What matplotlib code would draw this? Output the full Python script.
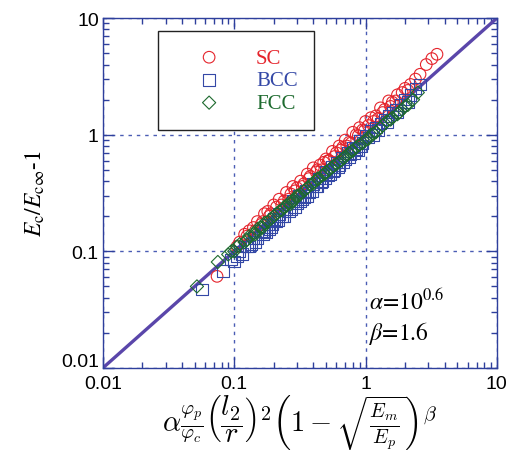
import matplotlib
matplotlib.use("Agg")
import matplotlib.pyplot as plt
import matplotlib.transforms as mtransforms
from matplotlib.ticker import LogLocator, FixedFormatter, FixedLocator

# simple cubic
sc_x = [0.074, 0.11, 0.12, 0.13, 0.14, 0.15, 0.16, 0.17, 0.18, 0.19, 0.20, 0.21, 0.22,
        0.24, 0.25, 0.27, 0.28, 0.30, 0.32, 0.34, 0.36, 0.38, 0.40, 0.42, 0.45, 0.48,
        0.50, 0.53, 0.56, 0.60, 0.63, 0.67, 0.70, 0.75, 0.80, 0.85, 0.90, 0.95, 1.00,
        1.05, 1.10, 1.20, 1.30, 1.40, 1.50, 1.60, 1.75, 1.90, 2.00, 2.20, 2.40, 2.60,
        2.90, 3.20, 3.50,
        0.105, 0.125, 0.145, 0.165, 0.185, 0.23, 0.26, 0.29, 0.33, 0.37, 0.43, 0.46,
        0.52, 0.58, 0.65, 0.72, 0.78, 0.88, 0.98, 1.15, 1.25, 1.35, 1.55, 1.70, 2.10]
sc_y = [0.061, 0.12, 0.14, 0.15, 0.16, 0.18, 0.17, 0.21, 0.22, 0.21, 0.25, 0.24, 0.28,
        0.27, 0.32, 0.31, 0.36, 0.35, 0.40, 0.38, 0.46, 0.44, 0.52, 0.48, 0.55, 0.58,
        0.62, 0.60, 0.72, 0.70, 0.80, 0.78, 0.90, 0.86, 1.05, 1.00, 1.15, 1.10, 1.30,
        1.20, 1.40, 1.45, 1.70, 1.65, 1.95, 1.90, 2.20, 2.30, 2.50, 2.70, 3.00, 3.30,
        4.00, 4.50, 4.90,
        0.11, 0.135, 0.15, 0.18, 0.20, 0.25, 0.28, 0.33, 0.36, 0.42, 0.50, 0.50,
        0.60, 0.65, 0.74, 0.80, 0.85, 0.98, 1.08, 1.30, 1.38, 1.55, 1.75, 1.95, 2.40]

# body centred cubic
bcc_x = [0.057, 0.082, 0.095, 0.10, 0.11, 0.115, 0.12, 0.13, 0.14, 0.15, 0.16, 0.17,
         0.18, 0.19, 0.20, 0.21, 0.22, 0.23, 0.25, 0.26, 0.28, 0.30, 0.31, 0.33, 0.35,
         0.37, 0.40, 0.42, 0.44, 0.47, 0.50, 0.52, 0.55, 0.58, 0.60, 0.63, 0.66, 0.70,
         0.73, 0.77, 0.80, 0.85, 0.90, 0.95, 1.00, 1.05, 1.10, 1.20, 1.30, 1.40, 1.50,
         1.60, 1.70, 1.85, 2.00, 2.20, 2.40, 2.60,
         0.105, 0.125, 0.135, 0.145, 0.165, 0.175, 0.185, 0.195, 0.215, 0.24, 0.27,
         0.29, 0.32, 0.34, 0.36, 0.39, 0.43, 0.46, 0.49, 0.54, 0.57, 0.62, 0.68, 0.75,
         0.82, 0.88, 0.93, 1.15, 1.25, 1.45, 1.75, 2.10]
bcc_y = [0.047, 0.068, 0.085, 0.082, 0.10, 0.095, 0.11, 0.11, 0.13, 0.13, 0.15, 0.15,
         0.17, 0.16, 0.19, 0.18, 0.21, 0.20, 0.23, 0.22, 0.27, 0.26, 0.30, 0.28, 0.33,
         0.32, 0.38, 0.36, 0.42, 0.40, 0.48, 0.45, 0.53, 0.50, 0.58, 0.55, 0.64, 0.62,
         0.70, 0.68, 0.78, 0.75, 0.88, 0.85, 0.97, 0.95, 1.08, 1.15, 1.25, 1.35, 1.45,
         1.55, 1.65, 1.80, 2.00, 2.20, 2.50, 2.70,
         0.090, 0.11, 0.115, 0.12, 0.14, 0.145, 0.155, 0.17, 0.185, 0.20, 0.23,
         0.24, 0.27, 0.29, 0.30, 0.33, 0.36, 0.39, 0.42, 0.46, 0.49, 0.53, 0.58, 0.64,
         0.70, 0.74, 0.80, 1.00, 1.10, 1.28, 1.55, 1.90]

# face centred cubic
fcc_x = [0.052, 0.075, 0.09, 0.10, 0.11, 0.12, 0.13, 0.14, 0.15, 0.16, 0.17, 0.18,
         0.20, 0.21, 0.22, 0.24, 0.26, 0.28, 0.30, 0.32, 0.34, 0.36, 0.38, 0.41, 0.44,
         0.47, 0.50, 0.53, 0.57, 0.60, 0.65, 0.70, 0.75, 0.80, 0.85, 0.90, 1.00, 1.10,
         1.20, 1.30, 1.45, 1.60, 1.75, 1.90, 2.10, 2.30, 2.50,
         0.095, 0.105, 0.125, 0.145, 0.165, 0.19, 0.23, 0.25, 0.27, 0.29, 0.31, 0.35,
         0.40, 0.43, 0.49, 0.55, 0.62, 0.68, 0.72, 0.78, 0.95, 1.05, 1.15, 1.35, 1.55,
         1.80, 2.00]
fcc_y = [0.050, 0.081, 0.094, 0.10, 0.115, 0.12, 0.135, 0.14, 0.155, 0.16, 0.175, 0.18,
         0.20, 0.21, 0.22, 0.24, 0.26, 0.27, 0.30, 0.31, 0.33, 0.35, 0.37, 0.40, 0.42,
         0.45, 0.48, 0.50, 0.54, 0.56, 0.60, 0.65, 0.70, 0.73, 0.78, 0.82, 0.90, 1.00,
         1.05, 1.15, 1.30, 1.40, 1.50, 1.65, 1.80, 2.00, 2.30,
         0.10, 0.11, 0.125, 0.14, 0.16, 0.19, 0.225, 0.245, 0.255, 0.28, 0.30, 0.34,
         0.38, 0.42, 0.46, 0.52, 0.58, 0.63, 0.67, 0.72, 0.85, 0.92, 1.02, 1.20, 1.35,
         1.55, 1.75]

fit_x = [0.01, 10]
fit_y = [0.01, 10]

axis_blue = "#2e3f9c"
grid_blue = "#4a5cb4"

plt.rcParams["mathtext.fontset"] = "cm"

fig = plt.figure(figsize=(5.07, 4.56), dpi=100)
ax = fig.add_axes([0.203, 0.191, 0.777, 0.767])

ax.plot(fit_x, fit_y, color="#5a46aa", lw=2.4, zorder=2)
ax.scatter(sc_x, sc_y, s=70, marker="o", facecolors="none", edgecolors="#e5242c",
           linewidths=0.8, label="SC", zorder=3)
ax.scatter(bcc_x, bcc_y, s=70, marker="s", facecolors="none", edgecolors="#3448a6",
           linewidths=0.8, label="BCC", zorder=3)
ax.scatter(fcc_x, fcc_y, s=45, marker="D", facecolors="none", edgecolors="#1d6a2e",
           linewidths=0.8, label="FCC", zorder=4)

ax.set_xscale("log")
ax.set_yscale("log")
ax.set_xlim(0.01, 10)
ax.set_ylim(0.01, 10)

ticks = [0.01, 0.1, 1, 10]
labels = ["0.01", "0.1", "1", "10"]
ax.xaxis.set_major_locator(FixedLocator(ticks))
ax.yaxis.set_major_locator(FixedLocator(ticks))
ax.xaxis.set_major_formatter(FixedFormatter(labels))
ax.yaxis.set_major_formatter(FixedFormatter(labels))
ax.xaxis.set_minor_locator(LogLocator(base=10, subs=range(2, 10)))
ax.yaxis.set_minor_locator(LogLocator(base=10, subs=range(2, 10)))
ax.xaxis.set_minor_formatter(FixedFormatter([]))
ax.yaxis.set_minor_formatter(FixedFormatter([]))

ax.tick_params(which="both", direction="in", top=True, right=True, color=axis_blue,
               width=1.0, labelsize=14, labelcolor="black")
ax.tick_params(which="major", length=8, pad=3)
ax.tick_params(axis="x", which="major", pad=5)
ax.tick_params(which="minor", length=4.5)
for lab in ax.get_xticklabels() + ax.get_yticklabels():
    lab.set_family("Liberation Sans")

# lift the lowest y label a little so it clears the x label below it
lowest = ax.get_yticklabels()[0]
lowest.set_transform(lowest.get_transform()
                     + mtransforms.ScaledTranslation(0, 6 / 72, fig.dpi_scale_trans))

for sp in ax.spines.values():
    sp.set_color(axis_blue)
    sp.set_linewidth(1.0)

ax.grid(True, which="major", color=grid_blue, lw=1.0, linestyle=(0, (2.5, 3.5)))

ax.set_xlabel(r"$\alpha\frac{\varphi_p}{\varphi_c}\left(\dfrac{l_2}{r}\right)^2"
              r"\left(1-\sqrt{\frac{E_m}{E_p}}\right)^\beta$", fontsize=20.5, labelpad=1)
ax.set_ylabel(r"$\mathit{E}_{\rm c}/\mathit{E}_{\rm c\infty}$-1", fontsize=17,
              family="STIXGeneral", labelpad=10)
ax.yaxis.label.set_math_fontfamily("stix")

ax.text(0.675, 0.167, r"$\alpha$=10$^{0.6}$", transform=ax.transAxes, fontsize=17,
        family="STIXGeneral", math_fontfamily="stix")
ax.text(0.675, 0.082, r"$\beta$=1.6", transform=ax.transAxes, fontsize=17,
        family="STIXGeneral", math_fontfamily="stix")

leg = ax.legend(loc="upper left", bbox_to_anchor=(0.14, 0.962), borderaxespad=0,
                prop={"family": "Liberation Serif", "size": 15}, handlelength=3.3,
                handletextpad=0.6, labelspacing=0.15, borderpad=0.8,
                fancybox=False, framealpha=1, edgecolor="#222222")
leg.get_frame().set_linewidth(1.0)
for txt, c in zip(leg.get_texts(), ["#e5242c", "#3448a6", "#1d6a2e"]):
    txt.set_color(c)

fig.savefig("out.png", dpi=100)
